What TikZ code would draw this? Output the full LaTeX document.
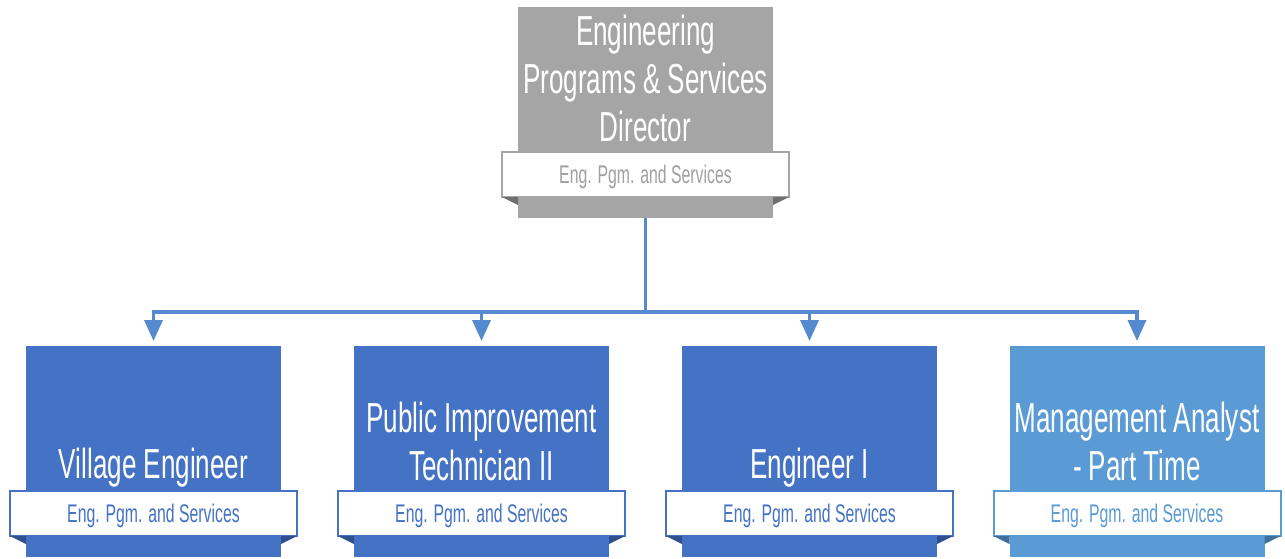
\documentclass[tikz,border=0pt]{standalone}
\usepackage{fontspec}
\setmainfont{Liberation Sans}
\newfontfamily\condfont[FakeStretch=0.62]{Liberation Sans}
\usetikzlibrary{arrows.meta}
\definecolor{grayc}{HTML}{A5A5A5}
\definecolor{graytext}{HTML}{A0A0A0}
\definecolor{graydark}{HTML}{6F6F6F}
\definecolor{bluec}{HTML}{4472C4}
\definecolor{bluedark}{HTML}{2F4F8F}
\definecolor{lbluec}{HTML}{5B9BD5}
\definecolor{lbluedark}{HTML}{3F6F9C}
\definecolor{conncol}{RGB}{84,138,206}
\begin{document}
\begin{tikzpicture}[x=1pt,y=-1pt,
  box/.style={draw=none, minimum width=255pt, minimum height=211pt, inner sep=0pt, outer sep=0pt},
  band/.style={fill=white, line width=2pt, minimum width=287pt, minimum height=45pt, inner sep=0pt, outer sep=0pt},
  bandtext/.style={inner sep=0pt, font=\condfont\fontsize{25.5}{28}\selectfont},
  title/.style={text=white, align=center, font=\condfont\fontsize{42}{48}\selectfont, inner sep=0pt},
  conn/.style={line width=3.5pt, draw=conncol},
  arr/.style={conn, -{Triangle[width=18pt,length=21pt]}}
]
\useasboundingbox (0,0) rectangle (1285,558);
% top
\node[box, fill=grayc] (top) at (645.5,112.5) {};
\node[band, draw=grayc] (topband) at (645.5,174.5) {};
\node[bandtext, text=graytext] (toplabel) at (645.5,176.5) {Eng. Pgm. and Services};
\fill[graydark] (topband.south west) -- (top.west |- topband.south) -- ++(0,8) -- cycle;
\fill[graydark] (topband.south east) -- (top.east |- topband.south) -- ++(0,8) -- cycle;
\node[title] (toptitle) at (645.5,78) {Engineering\\Programs \& Services\\Director};
% bottom boxes
\node[box, fill=bluec] (b1) at (153.5,451.5) {};
\node[box, fill=bluec] (b2) at (481.5,451.5) {};
\node[box, fill=bluec] (b3) at (809.5,451.5) {};
\node[box, fill=lbluec] (b4) at (1137,451.5) {};
\node[band, draw=bluec] (band1) at (153.5,513.5) {};
\node[band, draw=bluec] (band2) at (481.5,513.5) {};
\node[band, draw=bluec] (band3) at (809.5,513.5) {};
\node[band, draw=lbluec] (band4) at (1137,513.5) {};
\node[bandtext, text=bluec] (l1) at (153.5,515.5) {Eng. Pgm. and Services};
\node[bandtext, text=bluec] (l2) at (481.5,515.5) {Eng. Pgm. and Services};
\node[bandtext, text=bluec] (l3) at (809.5,515.5) {Eng. Pgm. and Services};
\node[bandtext, text=lbluec] (l4) at (1137,515.5) {Eng. Pgm. and Services};
\foreach \b/\c in {1/bluedark,2/bluedark,3/bluedark,4/lbluedark}{
  \fill[\c] (band\b.south west) -- (b\b.west |- band\b.south) -- ++(0,8) -- cycle;
  \fill[\c] (band\b.south east) -- (b\b.east |- band\b.south) -- ++(0,8) -- cycle;
}
\node[title] (t1) at (153.5,468) {Village Engineer};
\node[title] (t2) at (481.5,441) {Public Improvement\\Technician II};
\node[title] (t3) at (809.5,468) {Engineer I};
\node[title] (t4) at (1137,441) {Management Analyst\\- Part Time};
% connectors
\draw[conn] (top.south) -- ++(0,94) coordinate (hub);
\draw[conn] ([xshift=-1.75pt]b1.north |- hub) -- ([xshift=1.75pt]b4.north |- hub);
\foreach \b in {b1,b2,b3,b4}{
  \draw[arr] (\b.north |- hub) -- ([yshift=5pt]\b.north);
}
\end{tikzpicture}
\end{document}
